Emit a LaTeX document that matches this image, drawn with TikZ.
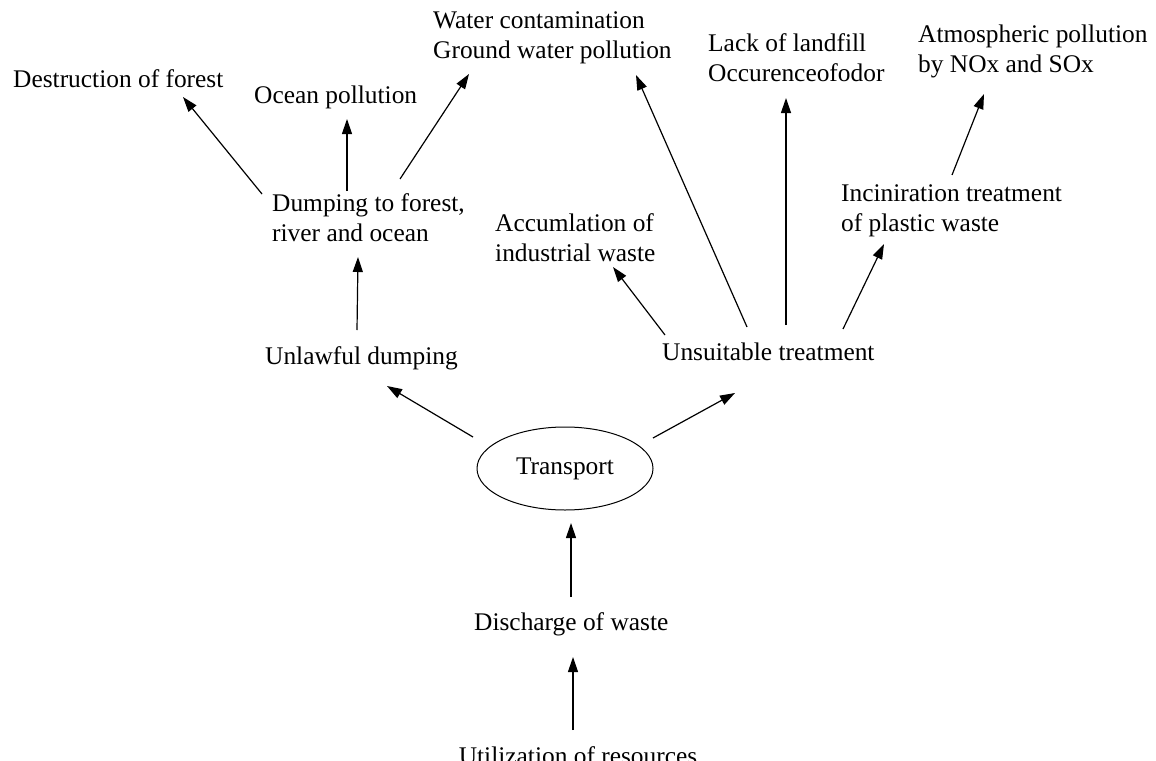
\documentclass[tikz,border=0pt]{standalone}
\usepackage{fontspec}
\setmainfont{Liberation Serif}
\usetikzlibrary{arrows.meta,shapes.geometric}
\begin{document}
\begin{tikzpicture}[x=1pt,y=-1pt,
  lbl/.style={inner sep=0pt,anchor=west,align=left,
    font=\fontsize{25.4}{29.5}\selectfont},
  arr/.style={line width=1.2pt,-{Triangle[length=15pt,width=10pt]}},
  oval/.style={ellipse,draw,line width=1pt,minimum width=176pt,minimum height=83pt,
    inner sep=0pt,font=\fontsize{25.4}{29.5}\selectfont}]
\useasboundingbox (0,0) rectangle (1156,760);
\clip (0,0) rectangle (1156,760);

% outcomes at the top
\node[lbl] (dest)  at (13,79)    {Destruction of forest};
\node[lbl] (ocean) at (254,97)   {Ocean pollution};
\node[lbl] (water) at (433,38)   {Water contamination\\Ground water pollution};
\node[lbl] (lack)  at (708,57.5) {Lack of landfill\\Occurenceofodor};
\node[lbl] (atmo)  at (918,51.5) {Atmospheric pollution\\by NOx and SOx};

% intermediate causes
\node[lbl] (dump2) at (272,217.5) {Dumping to forest,\\river and ocean};
\node[lbl] (accum) at (495,237.5) {Accumlation of\\industrial waste};
\node[lbl] (incin) at (841,211)   {Inciniration treatment\\of plastic waste};
\node[lbl] (unlawful) at (265,358) {Unlawful dumping};
\node[lbl] (unsuit)   at (662,352) {Unsuitable treatment};

% chain at the bottom (the last line runs off the lower edge)
\node[oval] (transport) at (565,468.5) {Transport};
\node[lbl] (discharge) at (474,624) {Discharge of waste};
\node[inner sep=0pt,anchor=base,font=\fontsize{25.4}{29.5}\selectfont]
  (util) at (578,764) {Utilization of resources};

% connectors
\draw[arr] ([shift={(-10,-23.5)}]dump2.west) -- ([shift={(170,18)}]dest.west);
\draw[arr] ([shift={(75,-26.5)}]dump2.west) -- ([shift={(93,22)}]ocean.west);
\draw[arr] ([shift={(128,-38.5)}]dump2.west) -- ([shift={(36,36)}]water.west);
\draw[arr] ([shift={(92,-28)}]unlawful.west) -- ([shift={(86,39.5)}]dump2.west);
\draw[arr] ([shift={(3,-17)}]unsuit.west) -- ([shift={(118,29.5)}]accum.west);
\draw[arr] ([shift={(85,-25)}]unsuit.west) -- ([shift={(203,37)}]water.west);
\draw[arr] ([shift={(124,-27)}]unsuit.west) -- ([shift={(78,40.5)}]lack.west);
\draw[arr] ([shift={(181,-23)}]unsuit.west) -- ([shift={(43,33)}]incin.west);
\draw[arr] ([shift={(111,-36)}]incin.west) -- ([shift={(66,42.5)}]atmo.west);
\draw[arr] ([shift={(-92,-31.5)}]transport.center) -- ([shift={(122,28)}]unlawful.west);
\draw[arr] ([shift={(88,-30.5)}]transport.center) -- ([shift={(73,41)}]unsuit.west);
\draw[arr] ([shift={(97,-27)}]discharge.west) -- ([shift={(6,54.5)}]transport.center);
\draw[arr] ([shift={(-5,-34)}]util.base) -- ([shift={(99,33)}]discharge.west);
\end{tikzpicture}
\end{document}
